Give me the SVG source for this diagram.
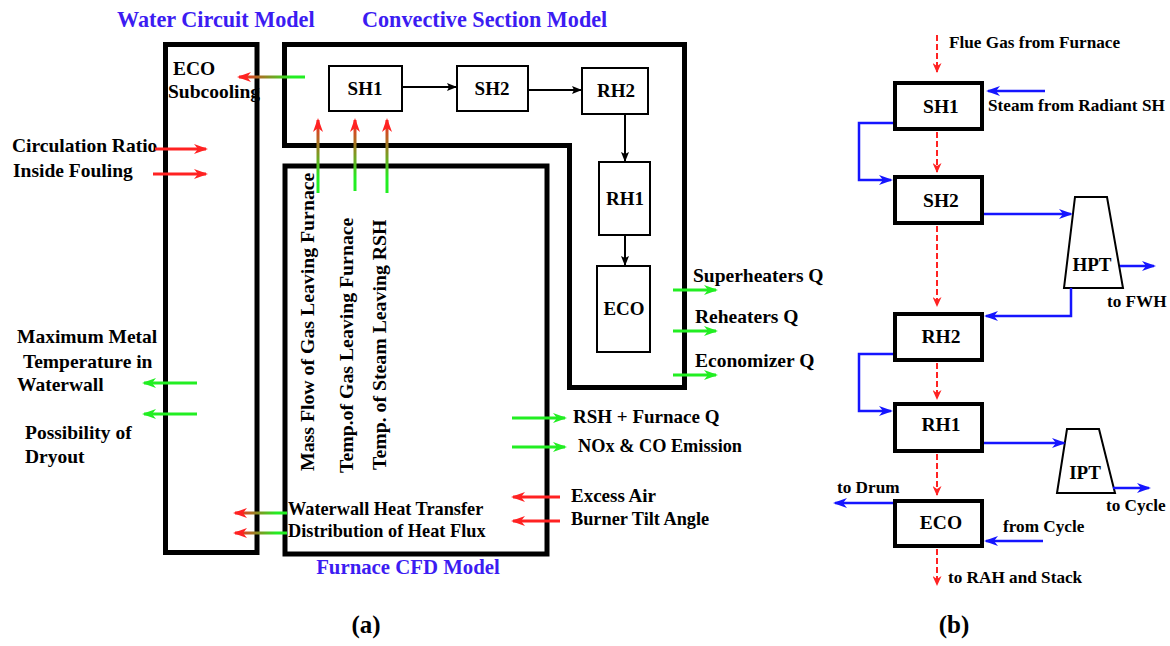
<svg xmlns="http://www.w3.org/2000/svg" width="1170" height="646" viewBox="0 0 1170 646">
<style>
text{font-family:"Liberation Serif","Times New Roman",serif;font-weight:bold;fill:#000}
.title{font-size:22.2px;fill:#3c1cf2}
.lbl{font-size:19px}
.lbw{font-size:19.5px}
.lbn{font-size:18.3px}
.rot{font-size:19.8px}
.sm{font-size:17.2px}
.box{fill:#fff;stroke:#000;stroke-width:2}
.bbox{fill:#fff;stroke:#000;stroke-width:4}
.frame{fill:none;stroke:#000;stroke-width:5}
.blk{fill:none;stroke:#000;stroke-width:2}
.red{fill:none;stroke:#ff2222;stroke-width:3}
.grn{fill:none;stroke:#22ee22;stroke-width:3}
.blu{fill:none;stroke:#1515ff;stroke-width:2.5}
.dash{fill:none;stroke:#ff2222;stroke-width:2;stroke-dasharray:6 3}
.mid{text-anchor:middle}
</style>
<defs>
<marker id="aRed" viewBox="0 0 14 10" markerWidth="14" markerHeight="10" refX="12" refY="5" orient="auto" markerUnits="userSpaceOnUse"><path d="M0,0 L14,5 L0,10 L4,5 z" fill="#ff2222"/></marker>
<marker id="aGrn" viewBox="0 0 14 10" markerWidth="14" markerHeight="10" refX="12" refY="5" orient="auto" markerUnits="userSpaceOnUse"><path d="M0,0 L14,5 L0,10 L4,5 z" fill="#22ee22"/></marker>
<marker id="aBlu" viewBox="0 0 14 10" markerWidth="14" markerHeight="10" refX="12" refY="5" orient="auto" markerUnits="userSpaceOnUse"><path d="M0,0 L14,5 L0,10 L4,5 z" fill="#1515ff"/></marker>
<marker id="aBlk" viewBox="0 0 10 8" markerWidth="10" markerHeight="8" refX="9" refY="4" orient="auto" markerUnits="userSpaceOnUse"><path d="M0,0 L10,4 L0,8 L2,4 z" fill="#000"/></marker>
<marker id="aDash" viewBox="0 0 10 9" markerWidth="10" markerHeight="9" refX="9" refY="4.5" orient="auto" markerUnits="userSpaceOnUse"><path d="M0,0 L10,4.5 L0,9 L3,4.5 z" fill="#ff2222"/></marker>
<linearGradient id="gEco" gradientUnits="userSpaceOnUse" x1="305" y1="0" x2="240" y2="0"><stop offset="0.2" stop-color="#22ee22"/><stop offset="1" stop-color="#ff2222"/></linearGradient>
<linearGradient id="gUp" gradientUnits="userSpaceOnUse" x1="0" y1="193" x2="0" y2="120"><stop offset="0.2" stop-color="#22ee22"/><stop offset="1" stop-color="#ff2222"/></linearGradient>
<linearGradient id="gWw" gradientUnits="userSpaceOnUse" x1="287" y1="0" x2="236" y2="0"><stop offset="0.2" stop-color="#22ee22"/><stop offset="1" stop-color="#ff2222"/></linearGradient>
</defs>
<rect width="1170" height="646" fill="#fff"/>

<!-- (a) model frames -->
<g id="water-circuit-model">
<rect class="frame" x="165.5" y="44.5" width="91.5" height="508"/>
<text class="title" x="117" y="27">Water Circuit Model</text>
<text class="lbw" x="173" y="75">ECO</text>
<text class="lbw" x="168" y="98">Subcooling</text>
</g>
<g id="convective-section-model">
<path class="frame" d="M284.5,44.5 H684.5 V387.5 H569.5 V145.5 H284.5 Z"/>
<text class="title" x="362" y="27">Convective Section Model</text>
</g>
<g id="furnace-cfd-model">
<rect class="frame" x="285" y="166" width="262" height="388"/>
<text class="title" x="408" y="574" text-anchor="middle" style="font-size:20.8px">Furnace CFD Model</text>
<text class="rot" transform="translate(314,471) rotate(-90)">Mass Flow of Gas Leaving Furnace</text>
<text class="rot" transform="translate(353,473) rotate(-90)">Temp.of Gas Leaving Furnace</text>
<text class="rot" transform="translate(386,470) rotate(-90)">Temp. of Steam Leaving RSH</text>
<text class="lbn" x="288" y="515">Waterwall Heat Transfer</text>
<text class="lbn" x="288" y="537">Distribution of Heat Flux</text>
</g>
<g id="a-SH1"><rect class="box" x="329" y="66" width="73" height="45"/><text class="lbl mid" x="365" y="95">SH1</text></g>
<g id="a-SH2"><rect class="box" x="457" y="66" width="71" height="45"/><text class="lbl mid" x="492" y="95">SH2</text></g>
<g id="a-RH2"><rect class="box" x="582" y="68" width="66" height="46"/><text class="lbl mid" x="616" y="97">RH2</text></g>
<g id="a-RH1"><rect class="box" x="599" y="162" width="51" height="73"/><text class="lbl mid" x="625" y="205">RH1</text></g>
<g id="a-ECO"><rect class="box" x="597" y="266" width="53" height="86"/><text class="lbl mid" x="624" y="315">ECO</text></g>

<!-- (a) external labels -->
<g id="a-labels">
<text class="lbw" x="12" y="152">Circulation Ratio</text>
<text class="lbw" x="13" y="177">Inside Fouling</text>
<text class="lbw" x="17" y="343">Maximum Metal</text>
<text class="lbw" x="23" y="368">Temperature in</text>
<text class="lbw" x="17" y="391">Waterwall</text>
<text class="lbw" x="25" y="439">Possibility of</text>
<text class="lbw" x="25" y="463">Dryout</text>
<text class="lbw" x="693" y="282">Superheaters Q</text>
<text class="lbw" x="695" y="323">Reheaters Q</text>
<text class="lbw" x="695" y="367">Economizer Q</text>
<text class="lbl" x="573" y="423">RSH + Furnace Q</text>
<text class="lbn" x="578" y="452">NOx &amp; CO Emission</text>
<text class="lbl" x="571" y="502">Excess Air</text>
<text class="lbn" x="571" y="525">Burner Tilt Angle</text>
<text x="366" y="633" text-anchor="middle" style="font-size:25px">(a)</text>
</g>

<!-- (b) nodes -->
<g id="b-SH1"><rect class="bbox" x="895" y="83" width="87" height="46"/><text class="lbw mid" x="941" y="113">SH1</text></g>
<g id="b-SH2"><rect class="bbox" x="895" y="177" width="87" height="46"/><text class="lbw mid" x="941" y="207">SH2</text></g>
<g id="b-RH2"><rect class="bbox" x="895" y="314" width="87" height="46"/><text class="lbw mid" x="941" y="343">RH2</text></g>
<g id="b-RH1"><rect class="bbox" x="895" y="404" width="87" height="47"/><text class="lbw mid" x="941" y="431">RH1</text></g>
<g id="b-ECO"><rect class="bbox" x="895" y="501" width="87" height="45"/><text class="lbw mid" x="941" y="529">ECO</text></g>
<g id="b-HPT"><path d="M1075,197 H1107 L1123,288 H1064 Z" fill="#fff" stroke="#000" stroke-width="2"/><text class="lbl mid" x="1092" y="271">HPT</text></g>
<g id="b-IPT"><path d="M1067,429 H1099 L1115,493 H1057 Z" fill="#fff" stroke="#000" stroke-width="2"/><text class="lbl mid" x="1085" y="479">IPT</text></g>
<g id="b-labels">
<text class="sm" x="949" y="48">Flue Gas from Furnace</text>
<text class="sm" x="988" y="111">Steam from Radiant SH</text>
<text class="sm" x="1107" y="307">to FWH</text>
<text class="sm" x="1106" y="511">to Cycle</text>
<text class="sm" x="837" y="493">to Drum</text>
<text class="sm" x="1003" y="532">from Cycle</text>
<text class="sm" x="948" y="583">to RAH and Stack</text>
<text x="954" y="633" text-anchor="middle" style="font-size:25px">(b)</text>
</g>

<!-- connectors -->
<g id="connectors">
<!-- (a) black flow -->
<line class="blk" x1="403" y1="87" x2="456" y2="87" marker-end="url(#aBlk)"/>
<line class="blk" x1="529" y1="90" x2="581" y2="90" marker-end="url(#aBlk)"/>
<line class="blk" x1="625" y1="115" x2="625" y2="161" marker-end="url(#aBlk)"/>
<line class="blk" x1="625" y1="236" x2="625" y2="265" marker-end="url(#aBlk)"/>
<!-- gradient arrows -->
<line x1="305" y1="77" x2="239" y2="77" stroke="url(#gEco)" stroke-width="3" marker-end="url(#aRed)"/>
<line x1="318" y1="193" x2="318" y2="120" stroke="url(#gUp)" stroke-width="3" marker-end="url(#aRed)"/>
<line x1="355" y1="191" x2="355" y2="120" stroke="url(#gUp)" stroke-width="3" marker-end="url(#aRed)"/>
<line x1="387" y1="193" x2="387" y2="120" stroke="url(#gUp)" stroke-width="3" marker-end="url(#aRed)"/>
<line x1="287" y1="513" x2="235" y2="513" stroke="url(#gWw)" stroke-width="3" marker-end="url(#aRed)"/>
<line x1="287" y1="533" x2="235" y2="533" stroke="url(#gWw)" stroke-width="3" marker-end="url(#aRed)"/>
<!-- red inputs -->
<line class="red" x1="155" y1="149" x2="206" y2="149" marker-end="url(#aRed)"/>
<line class="red" x1="153" y1="174" x2="206" y2="174" marker-end="url(#aRed)"/>
<line class="red" x1="560" y1="497" x2="513" y2="497" marker-end="url(#aRed)"/>
<line class="red" x1="560" y1="521" x2="513" y2="521" marker-end="url(#aRed)"/>
<!-- green outputs -->
<line class="grn" x1="197" y1="383" x2="144" y2="383" marker-end="url(#aGrn)"/>
<line class="grn" x1="197" y1="414" x2="144" y2="414" marker-end="url(#aGrn)"/>
<line class="grn" x1="673" y1="290" x2="716" y2="290" marker-end="url(#aGrn)"/>
<line class="grn" x1="673" y1="331" x2="716" y2="331" marker-end="url(#aGrn)"/>
<line class="grn" x1="673" y1="375" x2="716" y2="375" marker-end="url(#aGrn)"/>
<line class="grn" x1="512" y1="418" x2="565" y2="418" marker-end="url(#aGrn)"/>
<line class="grn" x1="512" y1="447" x2="565" y2="447" marker-end="url(#aGrn)"/>
<!-- (b) flue gas dashed -->
<line class="dash" x1="937" y1="35" x2="937" y2="72" marker-end="url(#aDash)"/>
<line class="dash" x1="937" y1="132" x2="937" y2="172" marker-end="url(#aDash)"/>
<line class="dash" x1="937" y1="226" x2="937" y2="306" marker-end="url(#aDash)"/>
<line class="dash" x1="937" y1="363" x2="937" y2="399" marker-end="url(#aDash)"/>
<line class="dash" x1="937" y1="454" x2="937" y2="495" marker-end="url(#aDash)"/>
<line class="dash" x1="937" y1="549" x2="937" y2="585" marker-end="url(#aDash)"/>
<!-- (b) steam blue -->
<line class="blu" x1="1045" y1="91" x2="988" y2="91" marker-end="url(#aBlu)"/>
<path class="blu" d="M893,123 H859 V180 H891" marker-end="url(#aBlu)"/>
<line class="blu" x1="984" y1="214" x2="1071" y2="214" marker-end="url(#aBlu)"/>
<line class="blu" x1="1120" y1="266" x2="1154" y2="266" marker-end="url(#aBlu)"/>
<path class="blu" d="M1071,288 V316 H986" marker-end="url(#aBlu)"/>
<path class="blu" d="M893,354 H859 V411 H891" marker-end="url(#aBlu)"/>
<line class="blu" x1="984" y1="443" x2="1064" y2="443" marker-end="url(#aBlu)"/>
<line class="blu" x1="1113" y1="488" x2="1149" y2="488" marker-end="url(#aBlu)"/>
<line class="blu" x1="893" y1="503" x2="835" y2="503" marker-end="url(#aBlu)"/>
<line class="blu" x1="1043" y1="541" x2="986" y2="541" marker-end="url(#aBlu)"/>
</g>
</svg>
